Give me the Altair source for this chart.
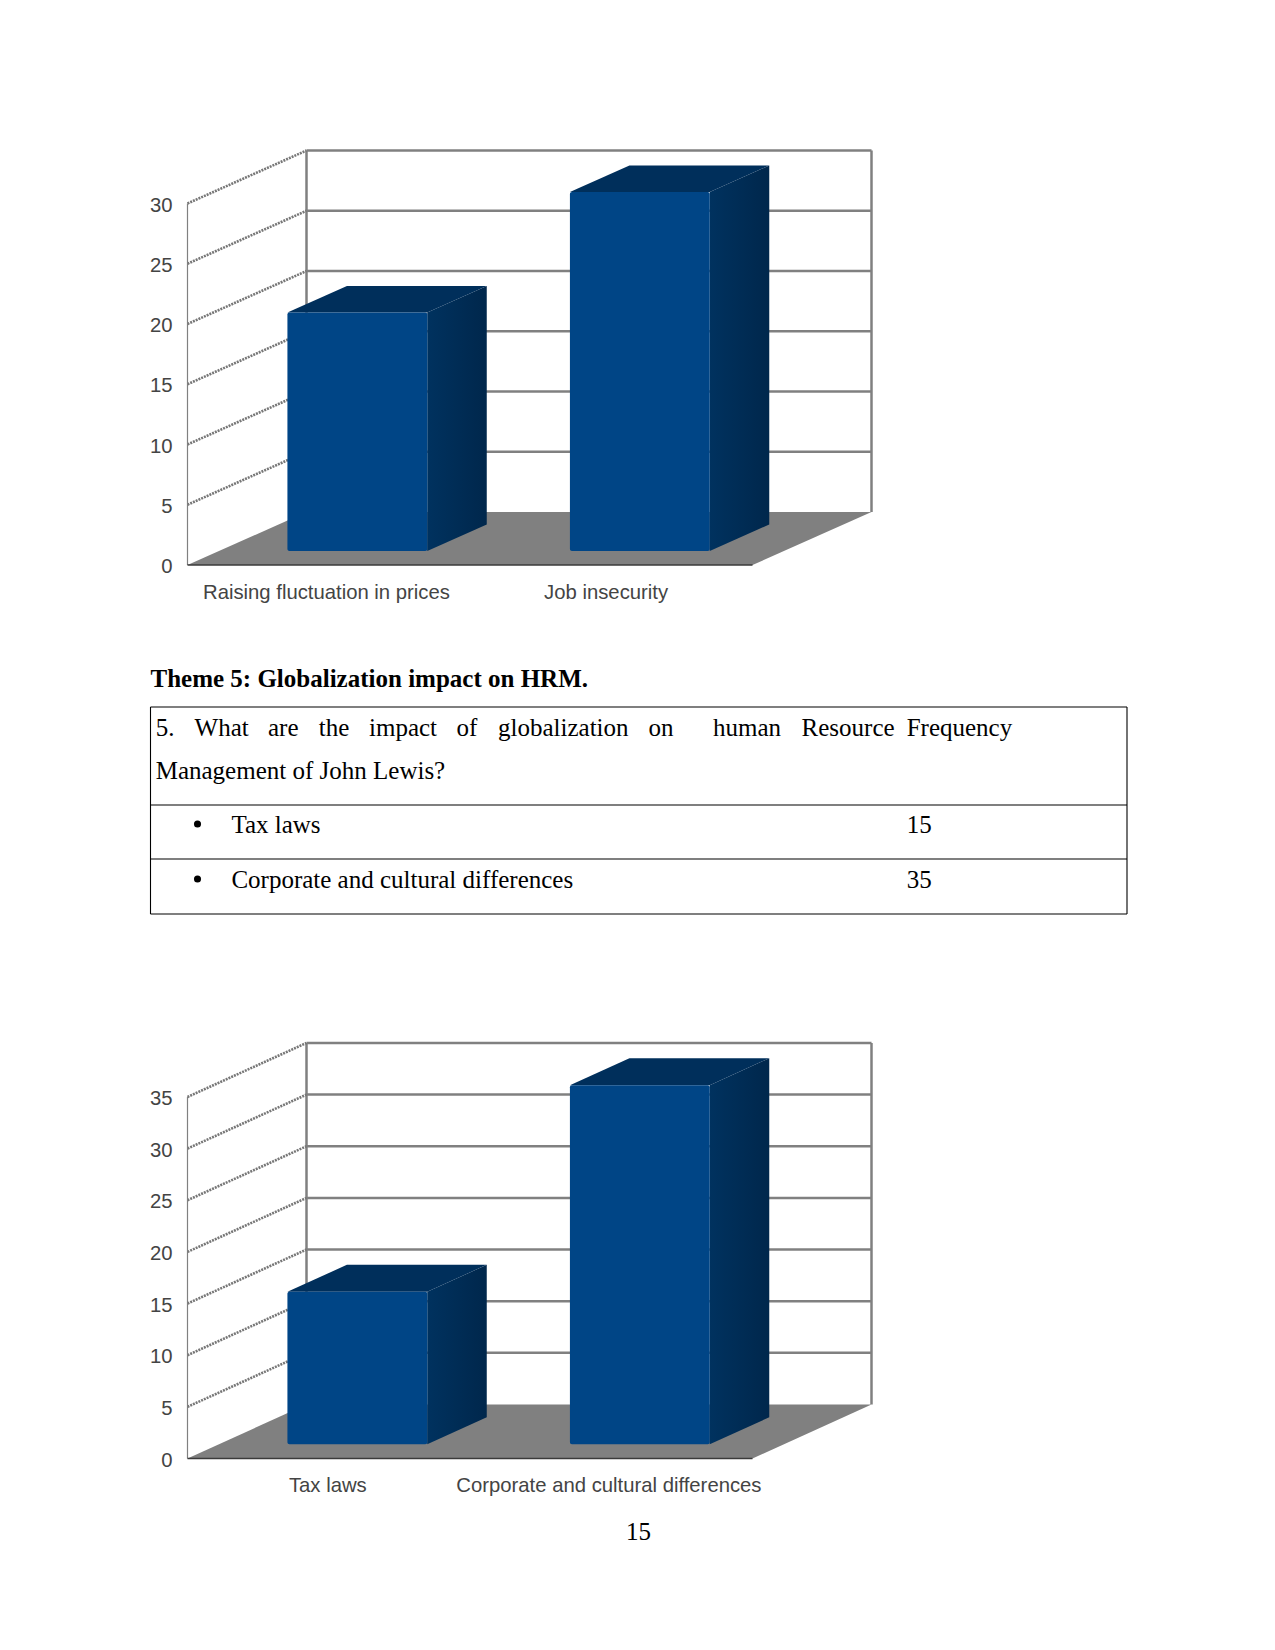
import altair as alt
import pandas as pd

# ---- chart values ----
top_categories = ["Raising fluctuation in prices", "Job insecurity"]
top_values = [20, 30]
top_ticks = [0, 5, 10, 15, 20, 25, 30]

bottom_categories = ["Tax laws", "Corporate and cultural differences"]
bottom_values = [15, 35]
bottom_ticks = [0, 5, 10, 15, 20, 25, 30, 35]

heading = "Theme 5: Globalization impact on HRM."
question_words = ["5.", "What", "are", "the", "impact", "of", "globalization", "on",
                  "human", "Resource", "Frequency"]
question_line2 = "Management of John Lewis?"
table_labels = ["Tax laws", "Corporate and cultural differences"]
table_freqs = ["15", "35"]
page_number = "15"

# ---- page layout (pixels on the page) ----
PAGE_W = 1259
LEFT, TOP = 8, 8
UNIT_PX = 282.5
DEPTH_X_PX = 119
BAR_D0, BAR_D1 = 0.264, 0.764
BAR_L, BAR_R = 0.2425, 0.7375
BAR_TOP_INSET_PX = 2.5
FRONT_LEFT_PX = 187.5
GREY = "#808080"
FRONT = "#004586"
CAP = "#002f5b"
LABEL = "#444444"
SANS = "Liberation Sans"
SERIF = "Liberation Serif"

DX = DEPTH_X_PX / UNIT_PX
x_scale = alt.Scale(domain=[(LEFT - FRONT_LEFT_PX) / UNIT_PX,
                            (LEFT + PAGE_W - FRONT_LEFT_PX) / UNIT_PX],
                    range=[0, PAGE_W], nice=False, zero=False)
side_fill = alt.Gradient(gradient="linear", x1=0, x2=1, y1=0, y2=0, stops=[
    alt.GradientStop(color="#00325f", offset=0),
    alt.GradientStop(color="#00274c", offset=1),
])


def chart3d(categories, values, ticks, panel_top, panel_bottom, zero_px, px_per_unit,
            depth_y_px, label_pos):
    H = panel_bottom - panel_top
    DY = depth_y_px / px_per_unit
    inset = BAR_TOP_INSET_PX / px_per_unit
    y_scale = alt.Scale(domain=[(zero_px - panel_bottom) / px_per_unit,
                                (zero_px - panel_top) / px_per_unit],
                        range=[H, 0], nice=False, zero=False)
    n = len(categories)
    top_tick = ticks[-1]

    X = lambda f="x:Q": alt.X(f, scale=x_scale, title=None)
    Y = lambda f="y:Q": alt.Y(f, scale=y_scale, title=None)

    def lines(rows, color, width, dash=None):
        kw = {"strokeDash": dash} if dash else {}
        return alt.Chart(pd.DataFrame(rows)).mark_line(
            color=color, strokeWidth=width, strokeCap="butt", **kw
        ).encode(X(), Y(), detail="seg:N", order="i:Q")

    # floor
    floor = alt.Chart(pd.DataFrame([
        {"y": 0, "x": 0, "x2": n},
        {"y": DY, "x": DX, "x2": n + DX},
    ])).mark_area(orient="horizontal", color=GREY, opacity=1).encode(X(), x2="x2:Q", y=Y())

    # back wall
    back = []
    for t in ticks[1:]:
        back += [{"seg": f"g{t}", "i": 0, "x": DX, "y": t + DY},
                 {"seg": f"g{t}", "i": 1, "x": n + DX, "y": t + DY}]
    for nm, ux in (("l", DX), ("r", n + DX)):
        back += [{"seg": nm, "i": 0, "x": ux, "y": DY},
                 {"seg": nm, "i": 1, "x": ux, "y": top_tick + DY}]
    back_wall = lines(back, GREY, 2.5)

    # side wall lines
    side = []
    for t in ticks[1:]:
        side += [{"seg": f"s{t}", "i": 0, "x": 0, "y": t},
                 {"seg": f"s{t}", "i": 1, "x": DX, "y": t + DY}]
    side_wall = lines(side, "#777777", 2.6, [2, 1])

    front_left = lines([{"seg": "fl", "i": 0, "x": 0, "y": 0},
                        {"seg": "fl", "i": 1, "x": 0, "y": top_tick}], GREY, 1.2)
    floor_edge = lines([{"seg": "b", "i": 0, "x": 0, "y": 0},
                        {"seg": "b", "i": 1, "x": n, "y": 0}], "#3a3a3a", 1.5)

    # real axes, carried by an invisible layer
    axis_layer = alt.Chart(pd.DataFrame({"x": [0, n], "y": [0, top_tick]})).mark_point(opacity=0).encode(
        x=alt.X("x:Q", scale=x_scale, title=None, axis=alt.Axis(
            values=label_pos, domain=False, ticks=False, grid=False,
            labelExpr=" : ".join(
                f"datum.value == {p} ? '{c}'" for p, c in zip(label_pos, categories)
            ) + " : ''",
            labelFont=SANS, labelFontSize=20.3, labelColor=LABEL, labelAngle=0,
            labelLimit=500, labelOverlap=False, labelPadding=17,
            offset=-(panel_bottom - zero_px))),
        y=alt.Y("y:Q", scale=y_scale, title=None, axis=alt.Axis(
            values=ticks, domain=False, ticks=False, grid=False,
            labelFont=SANS, labelFontSize=20.3, labelColor=LABEL, labelOffset=1.5,
            labelPadding=3, offset=-(175 - LEFT))),
    )

    # bars
    cap_rows, side_rows, front_rows = [], [], []
    for i, (c, v) in enumerate(zip(categories, values)):
        l, r = i + BAR_L, i + BAR_R
        v = v - inset
        front_rows.append({"x": l + BAR_D0 * DX, "x2": r + BAR_D0 * DX,
                           "y": BAR_D0 * DY, "y2": v + BAR_D0 * DY})
        side_rows += [
            {"c": c, "x": r + BAR_D0 * DX, "y": BAR_D0 * DY, "y2": v + BAR_D0 * DY},
            {"c": c, "x": r + BAR_D1 * DX, "y": BAR_D1 * DY, "y2": v + BAR_D1 * DY},
        ]
        cap_rows += [
            {"c": c, "y": v + BAR_D0 * DY, "x": l + BAR_D0 * DX, "x2": r + BAR_D0 * DX},
            {"c": c, "y": v + BAR_D1 * DY, "x": l + BAR_D1 * DX, "x2": r + BAR_D1 * DX},
        ]
    sides = alt.Chart(pd.DataFrame(side_rows)).mark_area(color=side_fill, opacity=1).encode(
        X(), Y(), y2="y2:Q", detail="c:N")
    caps = alt.Chart(pd.DataFrame(cap_rows)).mark_area(orient="horizontal", color=CAP, opacity=1).encode(
        X(), x2="x2:Q", y=Y(), detail="c:N")
    fronts = alt.Chart(pd.DataFrame(front_rows)).mark_rect(color=FRONT, opacity=1, cornerRadius=2).encode(
        X(), x2="x2:Q", y=Y(), y2="y2:Q")

    return alt.layer(axis_layer, floor, back_wall, side_wall, front_left, floor_edge,
                     sides, caps, fronts).properties(width=PAGE_W, height=H)


def doc_panel(panel_top, panel_bottom, text_rows, rule_rows=None, dot_rows=None):
    """Panel whose scales are page pixels; for the document's own text and table."""
    H = panel_bottom - panel_top
    xs = alt.Scale(domain=[LEFT, LEFT + PAGE_W], range=[0, PAGE_W], nice=False, zero=False)
    ys = alt.Scale(domain=[panel_bottom, panel_top], range=[H, 0], nice=False, zero=False)
    X = alt.X("x:Q", scale=xs, axis=None)
    Y = alt.Y("y:Q", scale=ys, axis=None)
    layers = []
    if rule_rows:
        layers.append(alt.Chart(pd.DataFrame(rule_rows)).mark_rule(color="#000000", strokeWidth=1.1).encode(
            X, Y, x2="x2:Q", y2="y2:Q"))
    if dot_rows:
        layers.append(alt.Chart(pd.DataFrame(dot_rows)).mark_point(
            filled=True, size=50, color="#000000", opacity=1).encode(X, Y))
    df = pd.DataFrame(text_rows)
    for weight in df["w"].unique():
        layers.append(alt.Chart(df[df["w"] == weight]).mark_text(
            font=SERIF, fontSize=25, align="left", baseline="alphabetic",
            color="#000000", fontWeight=weight
        ).encode(X, Y, text="t:N"))
    return alt.layer(*layers).properties(width=PAGE_W, height=H)


# ---- table layout ----
WORD_X = [155.7, 194.6, 268, 318.7, 369, 456.5, 498, 648.5, 713, 801.6, 906.7]
T_L, T_R = 150.5, 1127
T_Y = [707, 805, 859, 914]
rows = [{"t": heading, "x": 150.5, "y": 687, "w": "bold"}]
rows += [{"t": w, "x": x, "y": 736, "w": "normal"} for w, x in zip(question_words, WORD_X)]
rows.append({"t": question_line2, "x": 155.7, "y": 779, "w": "normal"})
dots = []
for lab, f, y in zip(table_labels, table_freqs, [833, 888]):
    dots.append({"x": 197.5, "y": y - 9})
    rows += [{"t": lab, "x": 231.4, "y": y, "w": "normal"},
             {"t": f, "x": 906.7, "y": y, "w": "normal"}]
rules = [{"x": T_L, "x2": T_R, "y": y, "y2": y} for y in T_Y]
rules += [{"x": x, "x2": x, "y": T_Y[0], "y2": T_Y[-1]} for x in (T_L, T_R)]

panel_a = chart3d(top_categories, top_values, top_ticks, 8, 625, 565, 12.05, 53, [0.49, 1.48])
panel_b = doc_panel(625, 1000, rows, rules, dots)
panel_c = chart3d(bottom_categories, bottom_values, bottom_ticks, 1000, 1510, 1458.5, 10.33, 54, [0.495, 1.49])
panel_d = doc_panel(1510, 1642, [{"t": page_number, "x": 626, "y": 1540, "w": "normal"}])

chart = alt.vconcat(
    panel_a, panel_b, panel_c, panel_d, spacing=0, padding=0, background="white"
).configure_view(stroke=None)

chart.save("out.html", embed_options={"renderer": "svg", "actions": False})
